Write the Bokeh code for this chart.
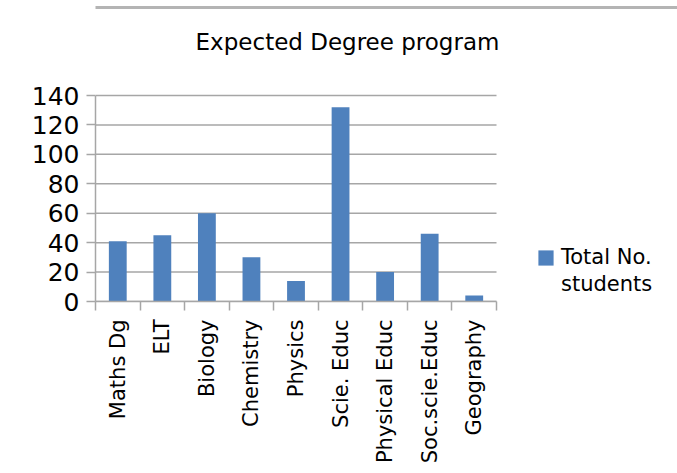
import math
from bokeh.plotting import figure
from bokeh.models import FixedTicker, Legend, LegendItem, Range1d, Label
from bokeh.embed import file_html
from bokeh.resources import INLINE

categories = ["Maths Dg", "ELT", "Biology", "Chemistry", "Physics",
              "Scie. Educ", "Physical Educ", "Soc.scie.Educ", "Geography"]
values = [41, 45, 60, 30, 14, 132, 20, 46, 4]
y_ticks = [0, 20, 40, 60, 80, 100, 120, 140]
series_name = ["Total No.", "students"]
title_text = "Expected Degree program"

FONT = "DejaVu Sans"
GRAY = "#a6a6a6"
EDGE = "#b4b4b4"
BLUE = "#4F81BD"

W, H = 677, 473
LEFT, BOTTOM = 95, 172          # frame left / bottom border in px
PLOT_W, PLOT_H = 401, 206       # size of the bar area in px

n = len(categories)
y_max = y_ticks[-1]
centers = [i + 0.5 for i in range(n)]
bounds = list(range(n + 1))
x_end = n * (W - LEFT) / PLOT_W            # frame reaches the right edge (legend)
y_end = y_max * (H - BOTTOM) / PLOT_H      # frame reaches the top edge (title)

def px_x(px):   # canvas x pixel -> data x
    return (px - LEFT) * n / PLOT_W

def px_y(py):   # canvas y pixel (from top) -> data y
    return (H - BOTTOM - py) * y_max / PLOT_H

p = figure(width=W, height=H, output_backend="svg", toolbar_location=None,
           x_range=Range1d(0, x_end), y_range=Range1d(0, y_end),
           min_border_left=LEFT, min_border_right=0,
           min_border_top=0, min_border_bottom=BOTTOM)
p.outline_line_color = None

# title
p.add_layout(Label(x=px_x(347), y=px_y(41), text=title_text,
                   text_align="center", text_baseline="alphabetic",
                   text_font=FONT, text_font_size="23px", text_color="#000000"))

# chart-area border (left and top edges)
p.add_layout(Label(x=11, y=px_y(236), x_units="canvas", y_units="data", text=" ",
                   text_font_size="1px", text_align="left", text_baseline="middle",
                   padding=dict(left=0, right=2, top=600, bottom=600),
                   background_fill_color=EDGE, background_fill_alpha=1,
                   border_line_color=None))
p.add_layout(Label(x=11, y=px_y(7), x_units="canvas", y_units="data", text=" ",
                   text_font_size="1px", text_align="left", text_baseline="middle",
                   padding=dict(left=0, right=700, top=1, bottom=1),
                   background_fill_color=EDGE, background_fill_alpha=1,
                   border_line_color=None))

# horizontal gridlines limited to the bar area
p.segment(x0=[0] * len(y_ticks), x1=[n] * len(y_ticks), y0=y_ticks, y1=y_ticks,
          line_color=GRAY, line_width=1.5)

r = p.vbar(x=centers, top=values, width=0.4, fill_color=BLUE, line_color=None)
blank = p.vbar(x=[], top=[], width=0.4, fill_alpha=0, line_alpha=0)

# x axis
p.xaxis.bounds = (0, n)
p.xaxis.ticker = FixedTicker(ticks=centers, minor_ticks=bounds)
p.xaxis.major_label_overrides = {c: lab for c, lab in zip(centers, categories)}
p.xaxis.major_label_orientation = math.pi / 2
p.xaxis.major_tick_out = 0
p.xaxis.major_tick_in = 0
p.xaxis.minor_tick_out = 9
p.xaxis.minor_tick_in = 0
p.xaxis.minor_tick_line_color = GRAY
p.xaxis.minor_tick_line_width = 1.5
p.xaxis.axis_line_color = GRAY
p.xaxis.axis_line_width = 1.5
p.xaxis.major_label_standoff = 9
p.xaxis.major_label_text_font = FONT
p.xaxis.major_label_text_font_size = "21px"
p.xaxis.major_label_text_color = "#000000"

# y axis
p.yaxis.bounds = (0, y_max)
p.yaxis.ticker = FixedTicker(ticks=y_ticks)
p.yaxis.major_tick_out = 9
p.yaxis.major_tick_in = 0
p.yaxis.minor_tick_out = 0
p.yaxis.major_tick_line_color = GRAY
p.yaxis.major_tick_line_width = 1.5
p.yaxis.axis_line_color = GRAY
p.yaxis.axis_line_width = 1.5
p.yaxis.major_label_standoff = 7
p.yaxis.major_label_text_font = FONT
p.yaxis.major_label_text_font_size = "25px"
p.yaxis.major_label_text_color = "#000000"

p.xgrid.visible = False
p.ygrid.visible = False

legend = Legend(items=[LegendItem(label=series_name[0], renderers=[r]),
                       LegendItem(label=series_name[1], renderers=[blank])],
                location=(441, 5), padding=0, margin=0, spacing=3,
                border_line_color=None, background_fill_alpha=0,
                glyph_width=19, glyph_height=19, label_standoff=6,
                label_text_font=FONT, label_text_font_size="21px",
                label_text_color="#000000")
p.add_layout(legend)

open("out.html", "w").write(file_html(p, INLINE))
